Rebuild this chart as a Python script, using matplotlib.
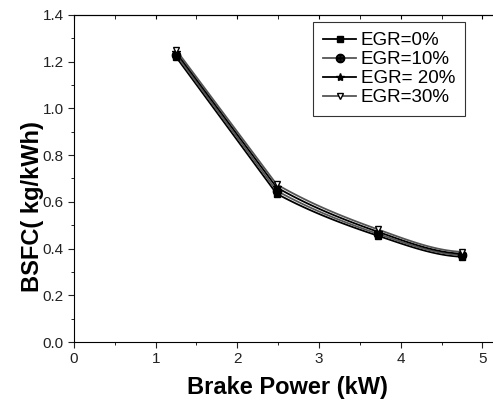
import matplotlib.pyplot as plt
import numpy as np

plt.rcParams['font.family'] = ['Liberation Sans', 'DejaVu Sans']

# brake power (kW) and BSFC (kg/kWh)
power = [1.25, 2.48, 3.72, 4.75]
bsfc_0 = [1.22, 0.635, 0.455, 0.365]
bsfc_10 = [1.23, 0.648, 0.463, 0.372]
bsfc_20 = [1.24, 0.662, 0.472, 0.378]
bsfc_30 = [1.25, 0.675, 0.482, 0.386]
labels = ['EGR=0%', 'EGR=10%', 'EGR= 20%', 'EGR=30%']


def smooth(x, y, n=60):
    # first segment straight, the rest a cubic hermite that flattens at the end
    x = np.asarray(x, float)
    y = np.asarray(y, float)
    d = np.diff(y) / np.diff(x)
    m = [None, d[1] * 1.3, 0.5 * (d[1] + d[2]), 0.15 * d[2]]
    xs_all = [np.linspace(x[0], x[1], 2)]
    ys_all = [y[:2]]
    for k in (1, 2):
        h = x[k + 1] - x[k]
        t = np.linspace(0, 1, n)
        h00 = 2 * t**3 - 3 * t**2 + 1
        h10 = t**3 - 2 * t**2 + t
        h01 = -2 * t**3 + 3 * t**2
        h11 = t**3 - t**2
        xs_all.append(x[k] + t * h)
        ys_all.append(h00 * y[k] + h10 * h * m[k] + h01 * y[k + 1] + h11 * h * m[k + 1])
    return np.concatenate(xs_all), np.concatenate(ys_all)


fig = plt.figure(figsize=(4.93, 4.01), dpi=100)
ax = fig.add_axes([0.150, 0.147, 0.85, 0.816])

series = [bsfc_0, bsfc_10, bsfc_20, bsfc_30]
colors = ['black', '#555555', 'black', '#555555']
markers = ['s', '$\\oplus$', '*', 'v']
mfcs = ['black', 'black', 'black', 'white']
sizes = [5, 6, 6, 5]
for ys, c, mk, fc, ms, lab in zip(series, colors, markers, mfcs, sizes, labels):
    xs, yy = smooth(power, ys)
    ax.plot(xs, yy, color=c, lw=1.3, zorder=2)
    ax.plot(power, ys, ls='none', marker=mk, color='black', mfc=fc, ms=ms, zorder=3)
    ax.plot([], [], color=c, lw=1.3, marker=mk, mfc=fc, mec='black', ms=ms, label=lab)

ax.set_xlim(0, 5.13)
ax.set_ylim(0, 1.4)
ax.set_xticks([0, 1, 2, 3, 4, 5])
ax.set_yticks(np.arange(0, 1.41, 0.2))
ax.set_yticklabels([f'{v:.1f}' for v in np.arange(0, 1.41, 0.2)])
ax.set_xticks(np.arange(0.5, 5.1, 1.0), minor=True)
ax.set_yticks(np.arange(0.1, 1.4, 0.2), minor=True)
ax.tick_params(which='major', direction='out', length=4, labelsize=11, colors='#222222')
ax.tick_params(which='minor', direction='out', length=2.5)
ax.spines['right'].set_visible(False)

top = ax.secondary_xaxis('top')
top.set_xticks([0, 1, 2, 3, 4, 5])
top.set_xticks(np.arange(0.5, 5.1, 1.0), minor=True)
top.tick_params(which='both', direction='in', labeltop=False, length=3)

ax.set_xlabel('Brake Power (kW)', fontsize=17, fontweight='bold')
ax.xaxis.set_label_coords(0.51, -0.105)
ax.set_ylabel('BSFC( kg/kWh)', fontsize=17, fontweight='bold')
ax.yaxis.set_label_coords(-0.072, 0.413)

leg = ax.legend(loc='upper left', bbox_to_anchor=(0.57, 0.979), fontsize=13.5,
                frameon=True, fancybox=False, edgecolor='black', handlelength=1.75,
                handletextpad=0.25, labelspacing=0.1, borderpad=0.55,
                borderaxespad=0)
leg.get_frame().set_linewidth(0.8)

fig.savefig('out.png', dpi=100)
